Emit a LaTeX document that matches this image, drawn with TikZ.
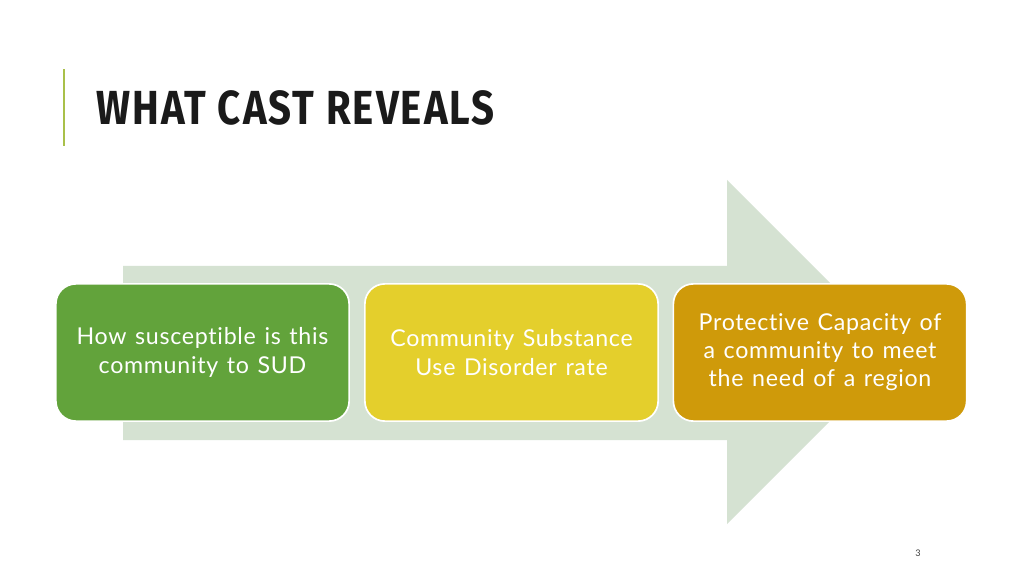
\documentclass[tikz,border=0pt]{standalone}
\usepackage{fontspec}
\setmainfont{Lato}[Ligatures={NoCommon}, LetterSpace=3, WordSpace=1.3]
\newfontfamily\titlefont{Fira Sans}[LetterSpace=5]
\definecolor{arrowfill}{HTML}{D5E2D2}
\definecolor{barline}{HTML}{A9C04A}
\definecolor{boxgreen}{HTML}{62A33B}
\definecolor{boxyellow}{HTML}{E4CF2C}
\definecolor{boxgold}{HTML}{CF9A0A}
\definecolor{titlecol}{HTML}{1A1A1A}
\definecolor{pagecol}{HTML}{404040}
\tikzset{
  stagebox/.style={draw=white, line width=1.2pt, rounded corners=0.5cm, text=white,
    align=center, minimum width=7.33cm, minimum height=3.43cm, inner sep=0pt,
    font=\fontsize{16.5}{20}\selectfont},
}
\begin{document}
\begin{tikzpicture}[x=0.025cm,y=-0.025cm]
\useasboundingbox (0,0) rectangle (1024,576);
\fill[white] (0,0) rectangle (1024,576);
\fill[arrowfill] (123,266) -- (727,266) -- (727,180) -- (899,352) -- (727,524) -- (727,440) -- (123,440) -- cycle;
\fill[barline] (63,69) rectangle (65,146);
\node[anchor=base west, inner sep=0pt, text=titlecol, font=\titlefont\bfseries\fontsize{34}{40}\selectfont] (title) at (96,125) {\scalebox{0.84}[1]{WHAT CAST REVEALS}};
\node[stagebox, fill=boxgreen] (b1) at (202.5,352.5) {How susceptible is this\\community to SUD};
\node[stagebox, fill=boxyellow] (b2) at (511.5,352.5) {Community Substance\\Use Disorder rate};
\node[stagebox, fill=boxgold] (b3) at (820,352.5) {Protective Capacity of\\a community to meet\\the need of a region};
\node[text=pagecol, font=\fontsize{6.5}{7}\selectfont] (pg) at (918,553) {3};
\end{tikzpicture}
\end{document}
